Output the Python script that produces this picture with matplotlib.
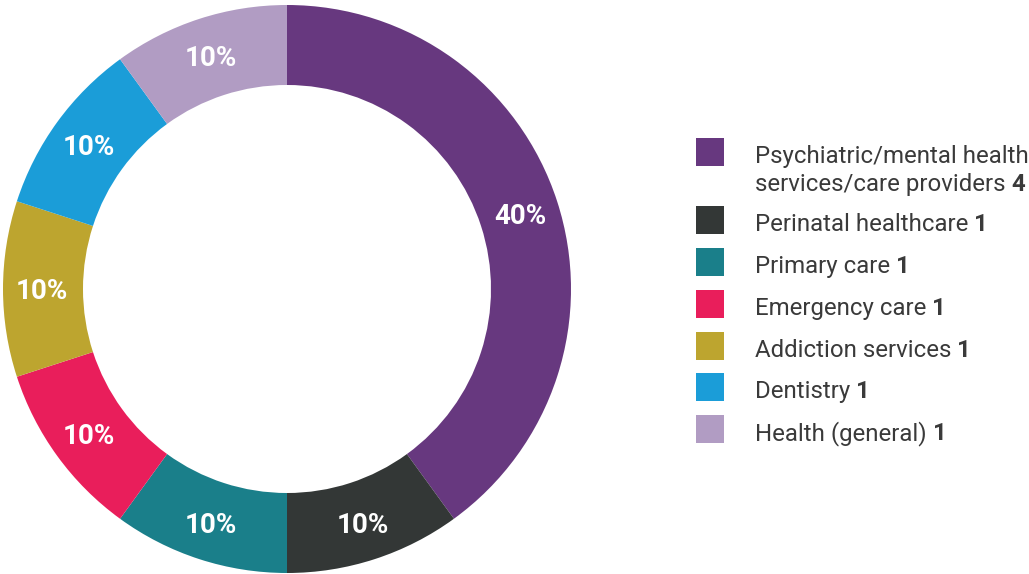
import matplotlib
matplotlib.use("Agg")
import matplotlib.pyplot as plt
from matplotlib.patches import Rectangle

categories = [
    "Psychiatric/mental health\nservices/care providers",
    "Perinatal healthcare",
    "Primary care",
    "Emergency care",
    "Addiction services",
    "Dentistry",
    "Health (general)",
]
counts = [4, 1, 1, 1, 1, 1, 1]
colors = ["#67387F", "#333736", "#1A7F8A", "#E91E5B", "#BDA52F", "#1B9DD8", "#B19CC3"]

plt.rcParams['font.family'] = ['Roboto', 'DejaVu Sans']

W, H = 1029, 574
fig = plt.figure(figsize=(W / 100, H / 100), dpi=100)

cx, cy, R = 287, 289, 284
ax = fig.add_axes([(cx - R) / W, (H - cy - R) / H, 2 * R / W, 2 * R / H])
total = sum(counts)
wedges, texts = ax.pie(
    counts, colors=colors, startangle=90, counterclock=False,
    radius=1.0, wedgeprops=dict(width=80 / 284, linewidth=0),
    labels=[f"{c / total * 100:.0f}%" for c in counts],
    labeldistance=0.863,
    textprops=dict(color="white", fontsize=20, fontweight="bold", ha="center",
                   va="center_baseline"),
)
for t in texts:
    t.set_ha("center")
ax.set_xlim(-1, 1)
ax.set_ylim(-1, 1)
ax.set_aspect("equal")
ax.axis("off")

# legend drawn manually
text_color = "#3A3A3A"
fs = 17.3
sq_x, sq_size = 696, 28
square_tops = [138, 206, 248, 290, 332, 373, 415]
fig.canvas.draw()
renderer = fig.canvas.get_renderer()
for i, (cat, n, col) in enumerate(zip(categories, counts, colors)):
    top = square_tops[i]
    fig.add_artist(Rectangle((sq_x / W, (H - top - sq_size) / H), sq_size / W, sq_size / H,
                             transform=fig.transFigure, facecolor=col, edgecolor="none"))
    lines = cat.split("\n")
    yc = top + sq_size / 2 + 2
    for j, line in enumerate(lines):
        y = yc + j * 28
        t = fig.text(755 / W, (H - y) / H, line, fontsize=fs, color=text_color,
                     ha="left", va="center_baseline")
        if j == len(lines) - 1:
            bb = t.get_window_extent(renderer=renderer)
            fig.text((bb.x1 + 6) / W, (H - y) / H, str(n), fontsize=fs, color=text_color,
                     fontweight="bold", ha="left", va="center_baseline")

fig.savefig("out.png", dpi=100, facecolor="white")
